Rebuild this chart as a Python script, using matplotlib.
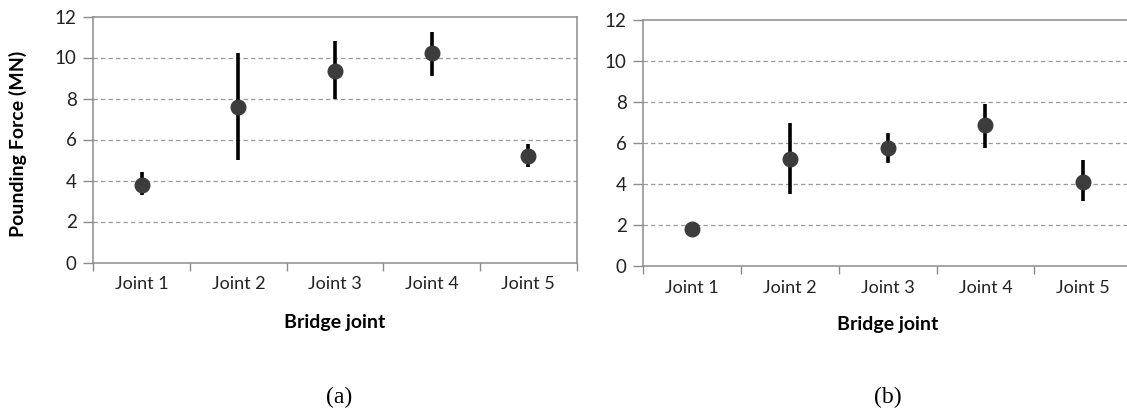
import matplotlib
matplotlib.use("Agg")
import matplotlib.pyplot as plt
import numpy as np

plt.rcParams['font.family'] = ['Lato', 'DejaVu Sans']

joints = ["Joint 1", "Joint 2", "Joint 3", "Joint 4", "Joint 5"]

# Panel (a): mean pounding force with min / max range
force_a = [3.8, 7.6, 9.35, 10.2, 5.2]
low_a = [3.3, 5.0, 8.0, 9.1, 4.65]
high_a = [4.4, 10.2, 10.8, 11.25, 5.8]

# Panel (b)
force_b = [1.8, 5.2, 5.75, 6.85, 4.1]
low_b = [1.8, 3.5, 5.0, 5.75, 3.15]
high_b = [1.8, 6.95, 6.5, 7.9, 5.15]

yticks = [0, 2, 4, 6, 8, 10, 12]

W, H = 1127, 412
fig = plt.figure(figsize=(W / 100, H / 100), dpi=100)


def px_axes(x0, x1, y0, y1):
    return fig.add_axes([x0 / W, 1 - y1 / H, (x1 - x0) / W, (y1 - y0) / H])


spine_col = "#8c8c8c"
grid_col = "#9a9a9a"
text_col = "#222222"


def draw(ax, vals, lo, hi):
    x = np.arange(len(joints))
    ax.set_xlim(-0.5, len(joints) - 0.5)
    ax.set_ylim(0, 12)
    for v in yticks[1:-1]:
        ax.axhline(v, color=grid_col, lw=0.9, ls=(0, (3.5, 2.5)), zorder=1)
    ax.vlines(x, lo, hi, color="black", lw=2.6, zorder=2)
    ax.plot(x, vals, "o", ms=10.5, color="#3c3c3c", mec="#3c3c3c", zorder=3)
    ax.set_yticks(yticks)
    ax.set_yticklabels([str(t) for t in yticks], fontsize=13.5, color=text_col)
    ax.set_xticks(x)
    ax.set_xticklabels(joints, fontsize=13, color=text_col)
    ax.set_xticks(np.arange(-0.5, len(joints)), minor=True)
    ax.tick_params(axis="x", which="major", length=0, pad=10)
    ax.tick_params(axis="x", which="minor", length=6, color=spine_col, width=1)
    ax.tick_params(axis="y", length=7, color=spine_col, width=1, pad=5)
    for s in ax.spines.values():
        s.set_color(spine_col)
        s.set_linewidth(1.1)


ax_a = px_axes(93.3, 576.7, 16.5, 262.5)
draw(ax_a, force_a, low_a, high_a)
ax_b = px_axes(643.3, 1132, 20, 265.7)
draw(ax_b, force_b, low_b, high_b)

fig.text(18 / W, 1 - 144 / H, "Pounding Force (MN)", rotation=90, fontsize=14,
         fontweight="bold", ha="center", va="center")
fig.text(335 / W, 1 - 328 / H, "Bridge joint", fontsize=14, fontweight="bold",
         ha="center", va="baseline")
fig.text(887.5 / W, 1 - 330 / H, "Bridge joint", fontsize=14, fontweight="bold",
         ha="center", va="baseline")

fig.text(339 / W, 1 - 397 / H, "(a)", family="Liberation Serif", fontsize=17,
         ha="center", va="center")
fig.text(888 / W, 1 - 397 / H, "(b)", family="Liberation Serif", fontsize=17,
         ha="center", va="center")

fig.savefig("out.png", dpi=100, facecolor="white")
